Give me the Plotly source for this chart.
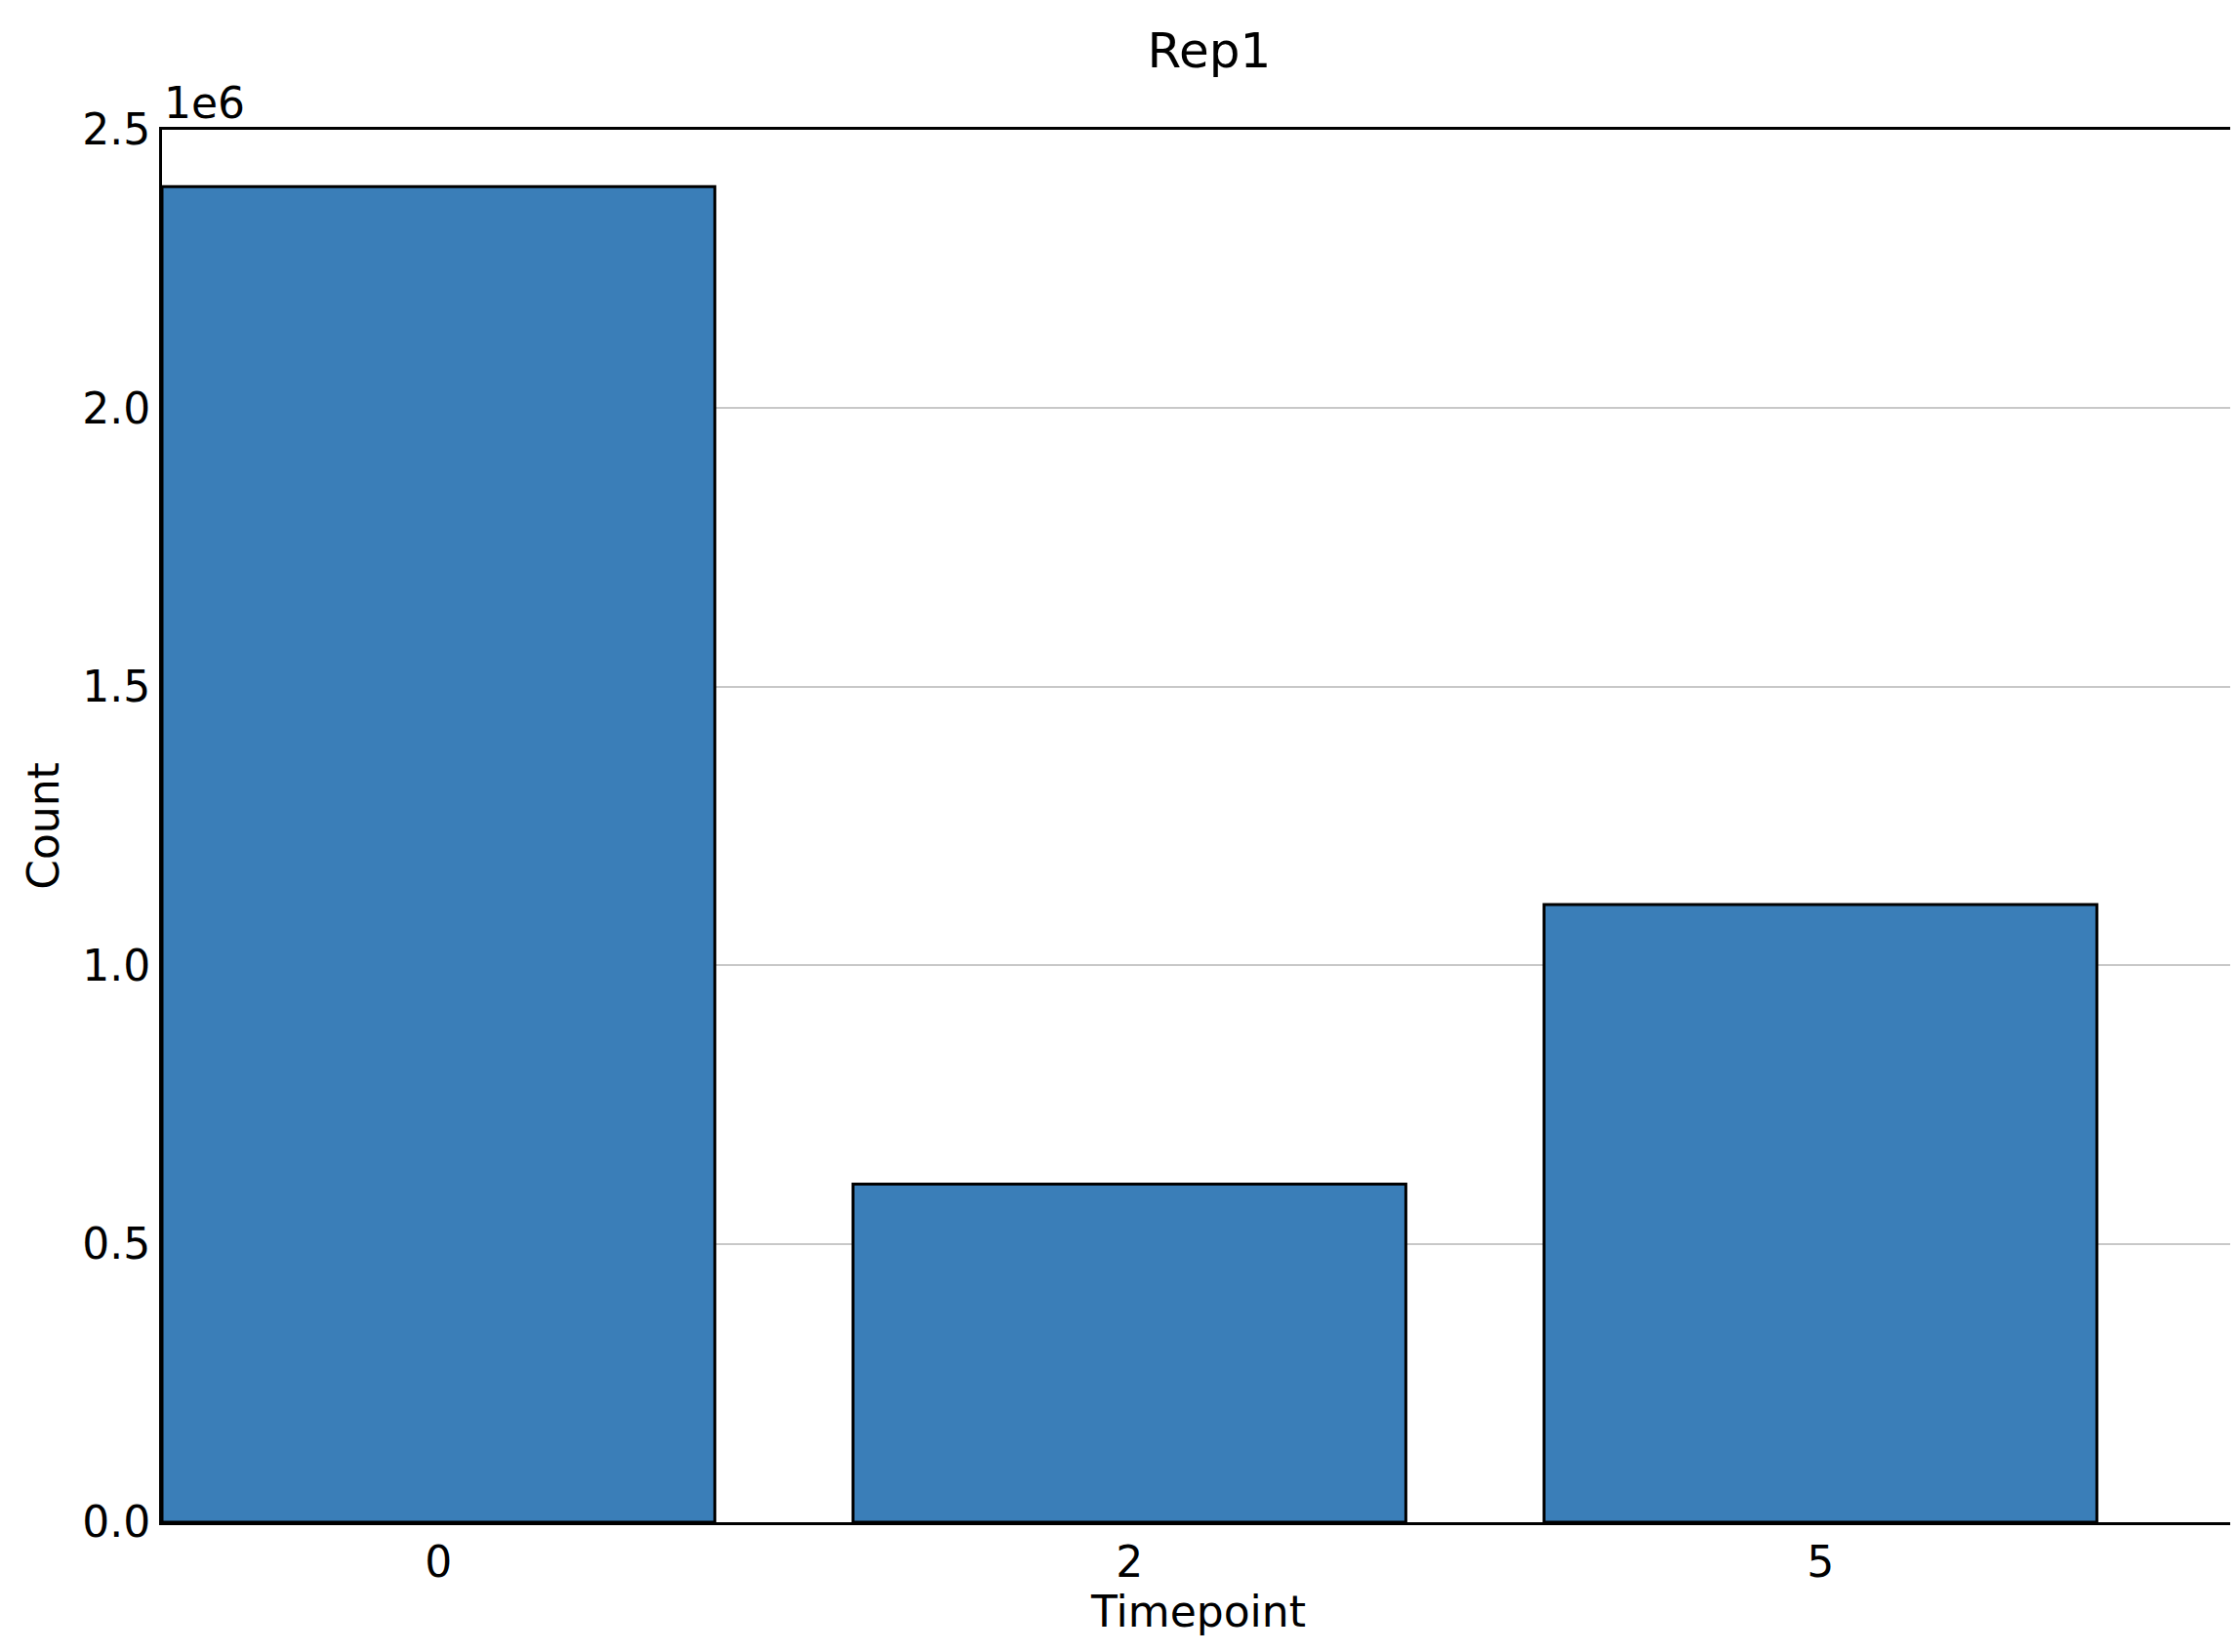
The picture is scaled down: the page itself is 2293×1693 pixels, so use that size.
import plotly.graph_objects as go

categories = ["0", "2", "5"]
counts = [2.398e6, 0.607e6, 1.109e6]
ytick_vals = [0, 0.5e6, 1.0e6, 1.5e6, 2.0e6, 2.5e6]
ytick_text = ["0.0", "0.5", "1.0", "1.5", "2.0", "2.5"]

fig = go.Figure(go.Bar(
    x=[0, 1, 2], y=counts, width=0.8,
    marker=dict(color="#3a7eb8", line=dict(color="black", width=3)),
))
fig.update_layout(
    width=2293, height=1693,
    paper_bgcolor="white", plot_bgcolor="white",
    font=dict(family="DejaVu Sans", color="black", size=44),
    margin=dict(l=158, r=8, t=125, b=141),
    showlegend=False,
)
fig.update_xaxes(range=[-0.4, 2.6], tickvals=[0, 1, 2], ticktext=categories,
                 title=dict(text="Timepoint", standoff=10, font=dict(size=44)),
                 showline=True, linecolor="black", linewidth=3, mirror=True,
                 ticks="", showgrid=False)
fig.update_yaxes(range=[0, 2.5e6], tickvals=ytick_vals, ticktext=ytick_text,
                 title=dict(text="Count", standoff=10, font=dict(size=44)),
                 showline=True, linecolor="black", linewidth=3, mirror=True,
                 ticks="", showgrid=True, gridcolor="#c8c8c8", gridwidth=2,
                 zeroline=False)
fig.add_annotation(text="1e6", xref="paper", yref="paper", x=0, y=1,
                   xanchor="left", yanchor="bottom", showarrow=False,
                   font=dict(size=44))
fig.add_annotation(text="Total Barcodes<br>Rep1", xref="paper", yref="paper",
                   x=0.505, y=1.035, xanchor="center", yanchor="bottom",
                   showarrow=False, font=dict(size=50))
fig.write_html("out.html")
